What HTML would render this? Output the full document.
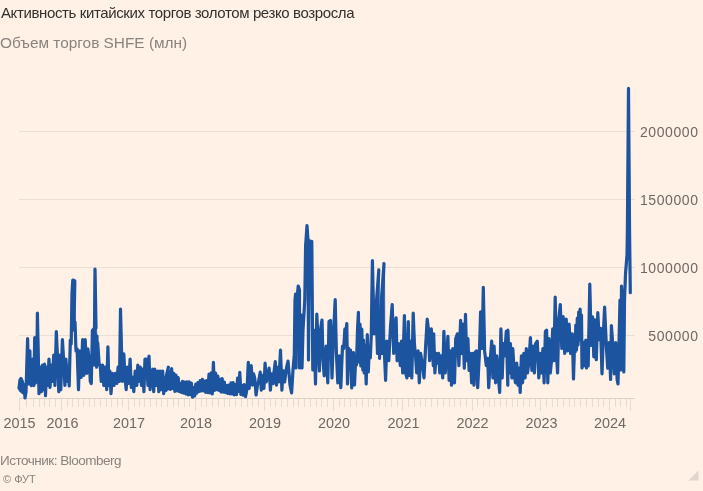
<!DOCTYPE html>
<html><head><meta charset="utf-8">
<style>
html,body{margin:0;padding:0;background:#fff1e5;}
body{width:703px;height:491px;overflow:hidden;position:relative;font-family:"Liberation Sans",sans-serif;}
.t{position:absolute;white-space:nowrap;will-change:transform;}
#title{left:0.8px;top:4.2px;font-size:15px;line-height:normal;color:#33302e;letter-spacing:-0.38px;}
#sub{left:0;top:34.3px;font-size:15.4px;color:#8a837f;}
#src{left:0;top:453.2px;font-size:13.5px;color:#8a837f;letter-spacing:-0.5px;}
#cr{left:3px;top:472.5px;font-size:11px;color:#8a837f;}
svg{position:absolute;left:0;top:0;will-change:transform;}
</style></head><body>
<div class="t" id="title">Активность китайских торгов золотом резко возросла</div>
<div class="t" id="sub">Объем торгов SHFE (млн)</div>
<svg width="703" height="491" viewBox="0 0 703 491">
<g stroke="#eadfd4" stroke-width="1" shape-rendering="crispEdges">
<line x1="19" y1="131.5" x2="635" y2="131.5"/>
<line x1="19" y1="199.5" x2="635" y2="199.5"/>
<line x1="19" y1="267.5" x2="635" y2="267.5"/>
<line x1="19" y1="335.5" x2="635" y2="335.5"/>
</g>
<g fill="#6f6965" font-family="Liberation Sans" font-size="14" letter-spacing="0.6" text-anchor="end">
<text x="698.6" y="137">2000000</text>
<text x="698.6" y="205">1500000</text>
<text x="698.6" y="273">1000000</text>
<text x="698.6" y="341">500000</text>
</g>
<g id="axis" stroke="#e0d5ca" stroke-width="1" shape-rendering="crispEdges"><line x1="67.5" y1="399" x2="67.5" y2="407" stroke="#e6dbd1"/><line x1="72.5" y1="399" x2="72.5" y2="407" stroke="#e6dbd1"/><line x1="78.5" y1="399" x2="78.5" y2="407" stroke="#e6dbd1"/><line x1="83.5" y1="399" x2="83.5" y2="407" stroke="#e6dbd1"/><line x1="89.5" y1="399" x2="89.5" y2="407" stroke="#e6dbd1"/><line x1="94.5" y1="399" x2="94.5" y2="407" stroke="#e6dbd1"/><line x1="100.5" y1="399" x2="100.5" y2="407" stroke="#e6dbd1"/><line x1="106.5" y1="399" x2="106.5" y2="407" stroke="#e6dbd1"/><line x1="111.5" y1="399" x2="111.5" y2="407" stroke="#e6dbd1"/><line x1="117.5" y1="399" x2="117.5" y2="407" stroke="#e6dbd1"/><line x1="122.5" y1="399" x2="122.5" y2="407" stroke="#e6dbd1"/><line x1="134.5" y1="399" x2="134.5" y2="407" stroke="#e6dbd1"/><line x1="139.5" y1="399" x2="139.5" y2="407" stroke="#e6dbd1"/><line x1="144.5" y1="399" x2="144.5" y2="407" stroke="#e6dbd1"/><line x1="150.5" y1="399" x2="150.5" y2="407" stroke="#e6dbd1"/><line x1="156.5" y1="399" x2="156.5" y2="407" stroke="#e6dbd1"/><line x1="161.5" y1="399" x2="161.5" y2="407" stroke="#e6dbd1"/><line x1="167.5" y1="399" x2="167.5" y2="407" stroke="#e6dbd1"/><line x1="173.5" y1="399" x2="173.5" y2="407" stroke="#e6dbd1"/><line x1="178.5" y1="399" x2="178.5" y2="407" stroke="#e6dbd1"/><line x1="184.5" y1="399" x2="184.5" y2="407" stroke="#e6dbd1"/><line x1="189.5" y1="399" x2="189.5" y2="407" stroke="#e6dbd1"/><line x1="201.5" y1="399" x2="201.5" y2="407" stroke="#e6dbd1"/><line x1="206.5" y1="399" x2="206.5" y2="407" stroke="#e6dbd1"/><line x1="212.5" y1="399" x2="212.5" y2="407" stroke="#e6dbd1"/><line x1="218.5" y1="399" x2="218.5" y2="407" stroke="#e6dbd1"/><line x1="224.5" y1="399" x2="224.5" y2="407" stroke="#e6dbd1"/><line x1="229.5" y1="399" x2="229.5" y2="407" stroke="#e6dbd1"/><line x1="235.5" y1="399" x2="235.5" y2="407" stroke="#e6dbd1"/><line x1="241.5" y1="399" x2="241.5" y2="407" stroke="#e6dbd1"/><line x1="247.5" y1="399" x2="247.5" y2="407" stroke="#e6dbd1"/><line x1="252.5" y1="399" x2="252.5" y2="407" stroke="#e6dbd1"/><line x1="258.5" y1="399" x2="258.5" y2="407" stroke="#e6dbd1"/><line x1="270.5" y1="399" x2="270.5" y2="407" stroke="#e6dbd1"/><line x1="275.5" y1="399" x2="275.5" y2="407" stroke="#e6dbd1"/><line x1="281.5" y1="399" x2="281.5" y2="407" stroke="#e6dbd1"/><line x1="287.5" y1="399" x2="287.5" y2="407" stroke="#e6dbd1"/><line x1="293.5" y1="399" x2="293.5" y2="407" stroke="#e6dbd1"/><line x1="298.5" y1="399" x2="298.5" y2="407" stroke="#e6dbd1"/><line x1="304.5" y1="399" x2="304.5" y2="407" stroke="#e6dbd1"/><line x1="310.5" y1="399" x2="310.5" y2="407" stroke="#e6dbd1"/><line x1="316.5" y1="399" x2="316.5" y2="407" stroke="#e6dbd1"/><line x1="321.5" y1="399" x2="321.5" y2="407" stroke="#e6dbd1"/><line x1="327.5" y1="399" x2="327.5" y2="407" stroke="#e6dbd1"/><line x1="339.5" y1="399" x2="339.5" y2="407" stroke="#e6dbd1"/><line x1="344.5" y1="399" x2="344.5" y2="407" stroke="#e6dbd1"/><line x1="350.5" y1="399" x2="350.5" y2="407" stroke="#e6dbd1"/><line x1="356.5" y1="399" x2="356.5" y2="407" stroke="#e6dbd1"/><line x1="362.5" y1="399" x2="362.5" y2="407" stroke="#e6dbd1"/><line x1="368.5" y1="399" x2="368.5" y2="407" stroke="#e6dbd1"/><line x1="373.5" y1="399" x2="373.5" y2="407" stroke="#e6dbd1"/><line x1="379.5" y1="399" x2="379.5" y2="407" stroke="#e6dbd1"/><line x1="385.5" y1="399" x2="385.5" y2="407" stroke="#e6dbd1"/><line x1="391.5" y1="399" x2="391.5" y2="407" stroke="#e6dbd1"/><line x1="397.5" y1="399" x2="397.5" y2="407" stroke="#e6dbd1"/><line x1="408.5" y1="399" x2="408.5" y2="407" stroke="#e6dbd1"/><line x1="414.5" y1="399" x2="414.5" y2="407" stroke="#e6dbd1"/><line x1="420.5" y1="399" x2="420.5" y2="407" stroke="#e6dbd1"/><line x1="425.5" y1="399" x2="425.5" y2="407" stroke="#e6dbd1"/><line x1="431.5" y1="399" x2="431.5" y2="407" stroke="#e6dbd1"/><line x1="437.5" y1="399" x2="437.5" y2="407" stroke="#e6dbd1"/><line x1="443.5" y1="399" x2="443.5" y2="407" stroke="#e6dbd1"/><line x1="449.5" y1="399" x2="449.5" y2="407" stroke="#e6dbd1"/><line x1="454.5" y1="399" x2="454.5" y2="407" stroke="#e6dbd1"/><line x1="460.5" y1="399" x2="460.5" y2="407" stroke="#e6dbd1"/><line x1="466.5" y1="399" x2="466.5" y2="407" stroke="#e6dbd1"/><line x1="477.5" y1="399" x2="477.5" y2="407" stroke="#e6dbd1"/><line x1="483.5" y1="399" x2="483.5" y2="407" stroke="#e6dbd1"/><line x1="489.5" y1="399" x2="489.5" y2="407" stroke="#e6dbd1"/><line x1="494.5" y1="399" x2="494.5" y2="407" stroke="#e6dbd1"/><line x1="500.5" y1="399" x2="500.5" y2="407" stroke="#e6dbd1"/><line x1="506.5" y1="399" x2="506.5" y2="407" stroke="#e6dbd1"/><line x1="512.5" y1="399" x2="512.5" y2="407" stroke="#e6dbd1"/><line x1="517.5" y1="399" x2="517.5" y2="407" stroke="#e6dbd1"/><line x1="523.5" y1="399" x2="523.5" y2="407" stroke="#e6dbd1"/><line x1="529.5" y1="399" x2="529.5" y2="407" stroke="#e6dbd1"/><line x1="535.5" y1="399" x2="535.5" y2="407" stroke="#e6dbd1"/><line x1="546.5" y1="399" x2="546.5" y2="407" stroke="#e6dbd1"/><line x1="552.5" y1="399" x2="552.5" y2="407" stroke="#e6dbd1"/><line x1="557.5" y1="399" x2="557.5" y2="407" stroke="#e6dbd1"/><line x1="563.5" y1="399" x2="563.5" y2="407" stroke="#e6dbd1"/><line x1="569.5" y1="399" x2="569.5" y2="407" stroke="#e6dbd1"/><line x1="574.5" y1="399" x2="574.5" y2="407" stroke="#e6dbd1"/><line x1="580.5" y1="399" x2="580.5" y2="407" stroke="#e6dbd1"/><line x1="586.5" y1="399" x2="586.5" y2="407" stroke="#e6dbd1"/><line x1="592.5" y1="399" x2="592.5" y2="407" stroke="#e6dbd1"/><line x1="598.5" y1="399" x2="598.5" y2="407" stroke="#e6dbd1"/><line x1="603.5" y1="399" x2="603.5" y2="407" stroke="#e6dbd1"/><line x1="26.5" y1="399" x2="26.5" y2="407" stroke="#e6dbd1"/><line x1="33.5" y1="399" x2="33.5" y2="407" stroke="#e6dbd1"/><line x1="39.5" y1="399" x2="39.5" y2="407" stroke="#e6dbd1"/><line x1="44.5" y1="399" x2="44.5" y2="407" stroke="#e6dbd1"/><line x1="49.5" y1="399" x2="49.5" y2="407" stroke="#e6dbd1"/><line x1="55.5" y1="399" x2="55.5" y2="407" stroke="#e6dbd1"/><line x1="615.5" y1="399" x2="615.5" y2="407" stroke="#e6dbd1"/><line x1="620.5" y1="399" x2="620.5" y2="407" stroke="#e6dbd1"/><line x1="626.5" y1="399" x2="626.5" y2="407" stroke="#e6dbd1"/><line x1="61.5" y1="399" x2="61.5" y2="411" stroke="#e6dbd1"/><line x1="128.5" y1="399" x2="128.5" y2="411" stroke="#e6dbd1"/><line x1="195.5" y1="399" x2="195.5" y2="411" stroke="#e6dbd1"/><line x1="264.5" y1="399" x2="264.5" y2="411" stroke="#e6dbd1"/><line x1="333.5" y1="399" x2="333.5" y2="411" stroke="#e6dbd1"/><line x1="402.5" y1="399" x2="402.5" y2="411" stroke="#e6dbd1"/><line x1="472.5" y1="399" x2="472.5" y2="411" stroke="#e6dbd1"/><line x1="540.5" y1="399" x2="540.5" y2="411" stroke="#e6dbd1"/><line x1="609.5" y1="399" x2="609.5" y2="411" stroke="#e6dbd1"/><line x1="19.5" y1="399" x2="19.5" y2="411" stroke="#e6dbd1"/><line x1="630.5" y1="399" x2="630.5" y2="411" stroke="#e6dbd1"/><line x1="19" y1="398.5" x2="635" y2="398.5" stroke="#ddd2c7"/></g>
<g fill="#6f6965" font-family="Liberation Sans" font-size="14.4" text-anchor="middle" id="years"><text x="19.5" y="428">2015</text><text x="62.5" y="428">2016</text><text x="128.9" y="428">2017</text><text x="196.0" y="428">2018</text><text x="265.0" y="428">2019</text><text x="333.9" y="428">2020</text><text x="403.5" y="428">2021</text><text x="472.6" y="428">2022</text><text x="541.4" y="428">2023</text><text x="610.1" y="428">2024</text></g>
<path id="env" fill="#1c54a0" stroke="#1c54a0" stroke-width="0.6" d="M19.0 383.2 L19.5 380.0 L20.0 379.1 L20.5 378.5 L21.0 378.5 L21.5 378.5 L22.0 379.8 L22.5 380.7 L23.0 382.0 L23.5 385.1 L24.0 385.0 L24.5 385.0 L25.0 390.2 L25.5 392.0 L26.0 374.2 L26.5 356.5 L27.0 344.6 L27.5 338.7 L28.0 338.7 L28.5 353.8 L29.0 361.9 L29.5 350.9 L30.0 350.9 L30.5 359.2 L31.0 384.0 L31.5 383.0 L32.0 365.0 L32.5 359.0 L33.0 359.0 L33.5 375.0 L34.0 347.2 L34.5 337.7 L35.0 337.7 L35.5 349.0 L36.0 367.2 L36.5 347.6 L37.0 313.2 L37.5 313.2 L38.0 321.2 L38.5 337.2 L39.0 361.1 L39.5 371.0 L40.0 367.2 L40.5 367.2 L41.0 370.7 L41.5 378.4 L42.0 365.1 L42.5 365.1 L43.0 365.1 L43.5 376.8 L44.0 364.1 L44.5 364.1 L45.0 364.1 L45.5 379.9 L46.0 367.2 L46.5 367.2 L47.0 367.2 L47.5 376.3 L48.0 369.0 L48.5 359.0 L49.0 359.0 L49.5 359.0 L50.0 373.3 L50.5 368.3 L51.0 365.1 L51.5 365.1 L52.0 367.9 L52.5 368.2 L53.0 358.3 L53.5 355.0 L54.0 355.0 L54.5 363.7 L55.0 365.3 L55.5 345.0 L56.0 331.6 L56.5 331.6 L57.0 335.2 L57.5 346.3 L58.0 357.4 L58.5 366.2 L59.0 367.2 L59.5 355.0 L60.0 355.0 L60.5 360.7 L61.0 367.4 L61.5 350.8 L62.0 339.7 L62.5 339.7 L63.0 339.7 L63.5 349.2 L64.0 358.8 L64.5 368.5 L65.0 367.9 L65.5 359.0 L66.0 359.0 L66.5 361.5 L67.0 366.5 L67.5 374.0 L68.0 370.7 L68.5 367.2 L69.0 367.2 L69.5 355.3 L70.0 340.0 L70.5 340.0 L71.0 318.5 L71.5 293.0 L72.0 283.2 L72.5 280.0 L73.0 280.0 L73.5 280.1 L74.0 280.4 L74.5 280.6 L75.0 280.9 L75.5 322.0 L76.0 333.6 L76.5 349.0 L77.0 349.0 L77.5 349.0 L78.0 359.1 L78.5 373.0 L79.0 356.4 L79.5 350.9 L80.0 350.9 L80.5 354.2 L81.0 364.1 L81.5 353.8 L82.0 339.7 L82.5 339.7 L83.0 339.7 L83.5 349.9 L84.0 357.5 L84.5 344.1 L85.0 339.7 L85.5 339.7 L86.0 343.9 L86.5 356.5 L87.0 355.8 L87.5 348.9 L88.0 348.9 L88.5 350.4 L89.0 353.4 L89.5 358.0 L90.0 364.5 L90.5 374.6 L91.0 374.6 L91.5 348.2 L92.0 330.3 L92.5 329.8 L93.0 329.2 L93.5 328.7 L94.0 328.0 L94.5 269.0 L95.0 269.0 L95.5 269.0 L96.0 292.6 L96.5 328.0 L97.0 336.0 L97.5 336.0 L98.0 342.7 L98.5 345.5 L99.0 353.9 L99.5 362.3 L100.0 365.1 L100.5 365.1 L101.0 370.6 L101.5 371.2 L102.0 367.2 L102.5 365.1 L103.0 365.1 L103.5 371.0 L104.0 376.3 L104.5 369.5 L105.0 367.2 L105.5 367.2 L106.0 370.0 L106.5 377.4 L107.0 359.0 L107.5 346.8 L108.0 346.8 L108.5 346.8 L109.0 366.2 L109.5 371.2 L110.0 371.2 L110.5 371.2 L111.0 382.4 L111.5 378.4 L112.0 373.3 L112.5 373.3 L113.0 374.6 L113.5 377.4 L114.0 380.9 L114.5 376.3 L115.0 373.3 L115.5 373.3 L116.0 373.3 L116.5 377.1 L117.0 374.2 L117.5 367.2 L118.0 367.2 L118.5 367.2 L119.0 370.7 L119.5 345.3 L120.0 309.2 L120.5 309.2 L121.0 309.2 L121.5 331.0 L122.0 352.9 L122.5 367.2 L123.0 361.8 L123.5 353.9 L124.0 353.9 L124.5 357.3 L125.0 367.3 L125.5 377.4 L126.0 382.1 L126.5 370.9 L127.0 367.2 L127.5 367.2 L128.0 369.2 L128.5 375.3 L129.0 368.2 L129.5 362.1 L130.0 359.0 L130.5 359.0 L131.0 367.2 L131.5 379.4 L132.0 378.6 L132.5 377.4 L133.0 377.4 L133.5 379.7 L134.0 381.4 L134.5 373.8 L135.0 371.2 L135.5 371.2 L136.0 374.4 L136.5 377.6 L137.0 371.9 L137.5 365.1 L138.0 365.1 L138.5 367.9 L139.0 374.3 L139.5 370.7 L140.0 367.2 L140.5 367.2 L141.0 369.8 L141.5 377.6 L142.0 373.3 L142.5 369.2 L143.0 369.2 L143.5 369.2 L144.0 375.3 L144.5 359.0 L145.0 359.0 L145.5 359.0 L146.0 359.0 L146.5 359.0 L147.0 362.0 L147.5 367.9 L148.0 370.7 L148.5 356.0 L149.0 356.0 L149.5 356.0 L150.0 372.8 L150.5 377.4 L151.0 375.5 L151.5 372.8 L152.0 370.1 L152.5 369.2 L153.0 369.2 L153.5 376.7 L154.0 372.9 L154.5 369.2 L155.0 369.2 L155.5 371.2 L156.0 377.4 L156.5 377.6 L157.0 374.4 L157.5 371.2 L158.0 371.2 L158.5 374.6 L159.0 381.4 L159.5 373.8 L160.0 371.2 L160.5 371.2 L161.0 377.4 L161.5 380.4 L162.0 373.5 L162.5 371.2 L163.0 371.2 L163.5 378.7 L164.0 386.9 L164.5 382.1 L165.0 379.5 L165.5 377.7 L166.0 375.1 L166.5 373.3 L167.0 370.7 L167.5 368.7 L168.0 367.2 L168.5 367.2 L169.0 371.4 L169.5 371.4 L170.0 374.4 L170.5 379.0 L171.0 368.7 L171.5 368.7 L172.0 368.7 L172.5 375.3 L173.0 378.5 L173.5 373.4 L174.0 373.4 L174.5 376.4 L175.0 383.2 L175.5 375.2 L176.0 375.2 L176.5 375.2 L177.0 383.0 L177.5 379.9 L178.0 377.7 L178.5 377.7 L179.0 382.3 L179.5 386.0 L180.0 383.3 L180.5 383.3 L181.0 384.8 L181.5 387.0 L182.0 381.4 L182.5 381.4 L183.0 381.4 L183.5 385.3 L184.0 385.9 L184.5 382.2 L185.0 382.2 L185.5 384.2 L186.0 387.9 L186.5 381.8 L187.0 381.8 L187.5 381.8 L188.0 388.4 L188.5 384.0 L189.0 381.9 L189.5 381.9 L190.0 386.1 L190.5 387.1 L191.0 383.2 L191.5 383.2 L192.0 385.5 L192.5 390.2 L193.0 387.6 L193.5 387.6 L194.0 387.6 L194.5 390.4 L195.0 388.0 L195.5 384.0 L196.0 384.0 L196.5 385.5 L197.0 387.8 L197.5 382.5 L198.0 382.5 L198.5 382.5 L199.0 387.0 L199.5 382.5 L200.0 380.6 L200.5 380.6 L201.0 384.1 L201.5 383.2 L202.0 379.3 L202.5 379.3 L203.0 381.2 L203.5 385.0 L204.0 381.1 L204.5 381.1 L205.0 381.1 L205.5 384.9 L206.0 384.4 L206.5 380.5 L207.0 380.5 L207.5 382.5 L208.0 383.4 L208.5 374.2 L209.0 374.2 L209.5 374.2 L210.0 383.5 L210.5 376.2 L211.0 372.8 L211.5 372.8 L212.0 379.9 L212.5 372.9 L213.0 362.4 L213.5 362.4 L214.0 367.1 L214.5 376.4 L215.0 373.1 L215.5 373.1 L216.0 373.1 L216.5 378.6 L217.0 380.6 L217.5 376.0 L218.0 376.0 L218.5 378.4 L219.0 384.9 L219.5 379.3 L220.0 379.3 L220.5 379.3 L221.0 385.7 L221.5 381.0 L222.0 378.7 L222.5 378.7 L223.0 383.2 L223.5 385.4 L224.0 382.0 L224.5 382.0 L225.0 383.8 L225.5 387.3 L226.0 385.7 L226.5 385.7 L227.0 385.7 L227.5 388.3 L228.0 387.8 L228.5 385.1 L229.0 385.1 L229.5 386.6 L230.0 388.4 L230.5 382.8 L231.0 382.8 L231.5 382.8 L232.0 388.4 L232.5 384.5 L233.0 382.6 L233.5 382.6 L234.0 386.7 L234.5 388.1 L235.0 384.7 L235.5 384.7 L236.0 386.4 L236.5 386.4 L237.0 378.2 L237.5 378.2 L238.0 378.2 L238.5 382.6 L239.0 378.6 L239.5 372.3 L240.0 372.3 L240.5 376.0 L241.0 387.1 L241.5 385.6 L242.0 385.6 L242.5 385.6 L243.0 390.4 L243.5 386.4 L244.0 384.6 L244.5 384.6 L245.0 388.0 L245.5 391.5 L246.0 391.5 L246.5 388.5 L247.0 381.0 L247.5 369.9 L248.0 362.4 L248.5 362.4 L249.0 367.6 L249.5 373.4 L250.0 366.9 L250.5 366.1 L251.0 365.7 L251.5 365.7 L252.0 371.3 L252.5 376.8 L253.0 373.8 L253.5 373.8 L254.0 373.8 L254.5 375.2 L255.0 377.3 L255.5 381.0 L256.0 388.0 L256.5 388.0 L257.0 384.7 L257.5 383.6 L258.0 382.0 L258.5 378.7 L259.0 376.6 L259.5 373.3 L260.0 372.2 L260.5 372.2 L261.0 378.2 L261.5 381.7 L262.0 375.4 L262.5 375.4 L263.0 375.4 L263.5 379.1 L264.0 374.0 L264.5 363.2 L265.0 363.2 L265.5 363.2 L266.0 369.5 L266.5 378.2 L267.0 375.4 L267.5 373.0 L268.0 370.5 L268.5 368.1 L269.0 368.1 L269.5 368.1 L270.0 374.4 L270.5 380.8 L271.0 373.8 L271.5 373.8 L272.0 373.8 L272.5 376.2 L273.0 378.7 L273.5 372.2 L274.0 367.7 L274.5 364.6 L275.0 361.6 L275.5 361.6 L276.0 365.5 L276.5 373.4 L277.0 372.4 L277.5 367.3 L278.0 367.3 L278.5 369.8 L279.0 371.4 L279.5 360.8 L280.0 350.2 L280.5 350.2 L281.0 350.2 L281.5 361.6 L282.0 378.7 L282.5 370.5 L283.0 370.5 L283.5 370.5 L284.0 374.3 L284.5 378.2 L285.0 374.7 L285.5 371.8 L286.0 368.0 L286.5 365.2 L287.0 363.4 L287.5 361.0 L288.0 361.0 L288.5 361.0 L289.0 365.8 L289.5 373.0 L290.0 377.8 L290.5 385.0 L291.0 387.7 L291.5 386.4 L292.0 376.6 L292.5 370.0 L293.0 363.6 L293.5 359.3 L294.0 341.2 L294.5 300.0 L295.0 294.0 L295.5 294.0 L296.0 294.0 L296.5 300.0 L297.0 293.0 L297.5 288.3 L298.0 286.0 L298.5 286.0 L299.0 287.1 L299.5 288.3 L300.0 290.0 L300.5 317.0 L301.0 315.0 L301.5 315.0 L302.0 315.0 L302.5 330.0 L303.0 321.0 L303.5 312.0 L304.0 306.0 L304.5 289.2 L305.0 246.0 L305.5 240.1 L306.0 231.4 L306.5 225.5 L307.0 225.5 L307.5 225.5 L308.0 231.3 L308.5 240.0 L309.0 240.6 L309.5 240.6 L310.0 240.6 L310.5 242.3 L311.0 242.2 L311.5 241.5 L312.0 241.5 L312.5 267.2 L313.0 318.6 L313.5 330.0 L314.0 330.0 L314.5 330.0 L315.0 350.2 L315.5 354.0 L316.0 334.0 L316.5 314.0 L317.0 314.0 L317.5 318.3 L318.0 327.0 L318.5 340.0 L319.0 348.9 L319.5 350.5 L320.0 330.0 L320.5 326.2 L321.0 323.8 L321.5 320.0 L322.0 320.0 L322.5 320.0 L323.0 336.0 L323.5 360.0 L324.0 365.3 L324.5 364.0 L325.0 355.0 L325.5 349.0 L326.0 346.1 L326.5 346.1 L327.0 354.2 L327.5 366.4 L328.0 347.8 L328.5 321.6 L329.0 321.1 L329.5 320.8 L330.0 320.4 L330.5 320.4 L331.0 320.4 L331.5 341.9 L332.0 356.3 L332.5 346.7 L333.0 336.3 L333.5 324.0 L334.0 311.8 L334.5 303.6 L335.0 299.6 L335.5 299.6 L336.0 314.9 L336.5 338.0 L337.0 357.1 L337.5 364.4 L338.0 369.3 L338.5 362.6 L339.0 355.8 L339.5 355.8 L340.0 359.8 L340.5 371.7 L341.0 369.2 L341.5 359.9 L342.0 346.1 L342.5 346.1 L343.0 346.1 L343.5 342.9 L344.0 334.5 L344.5 328.9 L345.0 328.9 L345.5 328.9 L346.0 328.2 L346.5 323.5 L347.0 323.5 L347.5 338.6 L348.0 348.0 L348.5 348.0 L349.0 348.0 L349.5 353.6 L350.0 350.0 L350.5 350.0 L351.0 350.0 L351.5 362.7 L352.0 360.0 L352.5 355.6 L353.0 352.6 L353.5 352.6 L354.0 352.6 L354.5 365.6 L355.0 362.0 L355.5 362.0 L356.0 362.0 L356.5 344.0 L357.0 330.0 L357.5 319.4 L358.0 312.3 L358.5 312.3 L359.0 312.3 L359.5 324.0 L360.0 324.0 L360.5 324.0 L361.0 336.4 L361.5 329.0 L362.0 329.0 L362.5 337.2 L363.0 340.0 L363.5 340.0 L364.0 340.0 L364.5 345.0 L365.0 345.0 L365.5 345.0 L366.0 358.0 L366.5 351.1 L367.0 334.7 L367.5 334.7 L368.0 342.2 L368.5 352.8 L369.0 348.0 L369.5 348.0 L370.0 350.0 L370.5 339.6 L371.0 323.3 L371.5 286.9 L372.0 260.7 L372.5 260.7 L373.0 260.7 L373.5 285.1 L374.0 309.4 L374.5 320.5 L375.0 315.1 L375.5 307.1 L376.0 301.8 L376.5 293.8 L377.0 288.5 L377.5 280.5 L378.0 275.1 L378.5 269.8 L379.0 269.8 L379.5 318.1 L380.0 312.6 L380.5 304.5 L381.0 299.0 L381.5 290.9 L382.0 285.4 L382.5 277.3 L383.0 271.9 L383.5 263.7 L384.0 263.7 L384.5 263.7 L385.0 354.2 L385.5 367.3 L386.0 352.3 L386.5 341.2 L387.0 341.2 L387.5 343.1 L388.0 349.0 L388.5 352.9 L389.0 345.5 L389.5 334.1 L390.0 326.5 L390.5 319.1 L391.0 314.3 L391.5 306.9 L392.0 304.5 L392.5 304.5 L393.0 316.7 L393.5 328.9 L394.0 335.9 L394.5 327.4 L395.0 322.6 L395.5 319.5 L396.0 317.9 L396.5 317.9 L397.0 335.0 L397.5 350.0 L398.0 343.6 L398.5 343.6 L399.0 343.6 L399.5 348.5 L400.0 355.8 L400.5 351.6 L401.0 341.2 L401.5 341.2 L402.0 341.2 L402.5 354.8 L403.0 347.4 L403.5 328.3 L404.0 315.5 L404.5 315.5 L405.0 315.5 L405.5 340.1 L406.0 364.8 L406.5 370.8 L407.0 349.7 L407.5 335.7 L408.0 321.6 L408.5 321.6 L409.0 332.4 L409.5 353.9 L410.0 345.4 L410.5 341.2 L411.0 341.2 L411.5 348.5 L412.0 345.4 L412.5 321.1 L413.0 313.0 L413.5 313.0 L414.0 317.4 L414.5 330.5 L415.0 343.6 L415.5 349.9 L416.0 356.2 L416.5 364.2 L417.0 359.2 L417.5 353.7 L418.0 350.9 L418.5 350.9 L419.0 360.0 L419.5 366.0 L420.0 353.4 L420.5 353.4 L421.0 353.4 L421.5 355.6 L422.0 358.8 L422.5 362.1 L423.0 364.8 L423.5 369.7 L424.0 366.9 L424.5 355.8 L425.0 348.5 L425.5 338.7 L426.0 332.2 L426.5 322.4 L427.0 319.1 L427.5 319.1 L428.0 321.9 L428.5 326.1 L429.0 333.5 L429.5 342.6 L430.0 343.1 L430.5 336.0 L431.0 328.9 L431.5 328.9 L432.0 332.6 L432.5 339.9 L433.0 349.7 L433.5 333.8 L434.0 333.8 L434.5 345.0 L435.0 361.8 L435.5 356.2 L436.0 353.4 L436.5 353.4 L437.0 356.2 L437.5 357.6 L438.0 353.4 L438.5 353.4 L439.0 353.4 L439.5 359.0 L440.0 363.2 L440.5 355.8 L441.0 355.8 L441.5 355.8 L442.0 363.2 L442.5 364.6 L443.0 344.7 L443.5 331.4 L444.0 331.4 L444.5 331.4 L445.0 349.2 L445.5 363.8 L446.0 360.1 L446.5 352.0 L447.0 342.6 L447.5 336.3 L448.0 336.3 L448.5 342.6 L449.0 361.4 L449.5 359.3 L450.0 350.9 L450.5 350.9 L451.0 355.8 L451.5 369.5 L452.0 353.7 L452.5 348.5 L453.0 348.5 L453.5 352.3 L454.0 363.7 L454.5 363.9 L455.0 345.0 L455.5 337.6 L456.0 336.5 L456.5 334.9 L457.0 333.8 L457.5 333.8 L458.0 333.8 L458.5 345.7 L459.0 350.5 L459.5 335.5 L460.0 320.4 L460.5 320.4 L461.0 320.4 L461.5 329.8 L462.0 336.6 L462.5 324.0 L463.0 324.0 L463.5 324.0 L464.0 342.9 L464.5 337.3 L465.0 314.3 L465.5 314.3 L466.0 314.3 L466.5 334.2 L467.0 345.0 L467.5 338.7 L468.0 338.7 L468.5 338.7 L469.0 352.3 L469.5 358.3 L470.0 353.4 L470.5 353.4 L471.0 357.6 L471.5 370.2 L472.0 361.8 L472.5 353.4 L473.0 353.4 L473.5 357.9 L474.0 371.0 L474.5 356.9 L475.0 352.0 L475.5 351.5 L476.0 350.9 L476.5 350.9 L477.0 350.9 L477.5 366.7 L478.0 372.4 L478.5 361.0 L479.0 347.5 L479.5 335.6 L480.0 317.7 L480.5 311.8 L481.0 311.8 L481.5 321.0 L482.0 331.0 L482.5 304.8 L483.0 287.3 L483.5 287.3 L484.0 296.4 L484.5 323.7 L485.0 350.9 L485.5 354.2 L486.0 359.1 L486.5 362.0 L487.0 359.2 L487.5 358.3 L488.0 358.3 L488.5 364.2 L489.0 374.2 L489.5 364.1 L490.0 355.8 L490.5 350.9 L491.0 343.6 L491.5 341.2 L492.0 341.2 L492.5 351.6 L493.0 359.7 L493.5 346.1 L494.0 346.1 L494.5 346.1 L495.0 355.2 L495.5 369.0 L496.0 363.5 L496.5 355.8 L497.0 355.8 L497.5 358.3 L498.0 365.6 L498.5 373.0 L499.0 379.5 L499.5 374.4 L500.0 347.1 L500.5 328.9 L501.0 328.9 L501.5 328.9 L502.0 349.9 L502.5 353.4 L503.0 343.6 L503.5 343.6 L504.0 345.4 L504.5 348.9 L505.0 342.2 L505.5 336.8 L506.0 331.4 L506.5 331.4 L507.0 338.1 L507.5 330.2 L508.0 330.2 L508.5 330.2 L509.0 346.2 L509.5 355.4 L510.0 343.6 L510.5 343.6 L511.0 347.9 L511.5 356.5 L512.0 360.2 L512.5 348.5 L513.0 348.5 L513.5 351.9 L514.0 362.0 L514.5 368.7 L515.0 376.5 L515.5 374.4 L516.0 366.0 L516.5 363.2 L517.0 363.2 L517.5 366.3 L518.0 375.8 L518.5 370.5 L519.0 368.1 L519.5 368.1 L520.0 377.9 L520.5 366.3 L521.0 355.8 L521.5 355.8 L522.0 359.7 L522.5 367.4 L523.0 361.8 L523.5 353.4 L524.0 353.4 L524.5 356.9 L525.0 365.3 L525.5 356.9 L526.0 348.5 L526.5 348.5 L527.0 352.0 L527.5 362.5 L528.0 365.3 L528.5 360.7 L529.0 352.0 L529.5 343.3 L530.0 337.5 L530.5 337.5 L531.0 337.5 L531.5 349.9 L532.0 360.0 L532.5 349.6 L533.0 346.1 L533.5 346.1 L534.0 353.7 L534.5 356.2 L535.0 343.6 L535.5 343.1 L536.0 342.2 L536.5 341.7 L537.0 341.2 L537.5 341.2 L538.0 345.7 L538.5 359.5 L539.0 367.0 L539.5 358.8 L540.0 353.4 L540.5 353.4 L541.0 353.4 L541.5 361.8 L542.0 355.5 L542.5 348.5 L543.0 348.5 L543.5 348.5 L544.0 363.2 L544.5 346.1 L545.0 331.2 L545.5 330.7 L546.0 330.2 L546.5 330.2 L547.0 330.2 L547.5 345.2 L548.0 357.6 L548.5 338.7 L549.0 338.7 L549.5 338.7 L550.0 353.4 L550.5 363.2 L551.0 360.7 L551.5 347.1 L552.0 333.5 L552.5 328.9 L553.0 328.9 L553.5 338.0 L554.0 333.5 L554.5 306.2 L555.0 297.1 L555.5 297.1 L556.0 313.2 L556.5 337.3 L557.0 356.2 L557.5 357.6 L558.0 334.5 L558.5 317.3 L559.0 311.8 L559.5 308.1 L560.0 304.5 L560.5 304.5 L561.0 310.0 L561.5 326.5 L562.0 332.6 L562.5 320.7 L563.0 316.7 L563.5 316.7 L564.0 321.3 L564.5 335.0 L565.0 336.3 L565.5 323.4 L566.0 319.1 L566.5 319.1 L567.0 327.1 L567.5 339.0 L568.0 334.1 L568.5 324.0 L569.0 324.0 L569.5 324.0 L570.0 331.4 L570.5 342.4 L571.0 342.5 L571.5 336.0 L572.0 333.8 L572.5 333.8 L573.0 340.3 L573.5 358.6 L574.0 345.0 L574.5 345.0 L575.0 334.0 L575.5 325.0 L576.0 325.0 L576.5 326.0 L577.0 318.0 L577.5 318.0 L578.0 320.2 L578.5 312.0 L579.0 312.0 L579.5 309.0 L580.0 309.0 L580.5 309.0 L581.0 315.0 L581.5 315.0 L582.0 315.0 L582.5 345.0 L583.0 345.0 L583.5 348.0 L584.0 342.0 L584.5 342.0 L585.0 346.2 L585.5 340.0 L586.0 340.0 L586.5 347.0 L587.0 345.0 L587.5 345.0 L588.0 345.0 L588.5 325.1 L589.0 294.4 L589.5 284.2 L590.0 284.2 L590.5 291.8 L591.0 314.8 L591.5 331.1 L592.0 320.5 L592.5 316.9 L593.0 316.9 L593.5 330.2 L594.0 332.1 L594.5 319.8 L595.0 319.8 L595.5 319.8 L596.0 334.7 L596.5 336.1 L597.0 318.5 L597.5 312.6 L598.0 312.6 L598.5 316.0 L599.0 326.2 L599.5 332.6 L600.0 329.7 L600.5 328.3 L601.0 328.3 L601.5 339.7 L602.0 356.8 L602.5 347.2 L603.0 331.1 L603.5 319.0 L604.0 307.0 L604.5 307.0 L605.0 307.0 L605.5 315.5 L606.0 328.3 L606.5 336.8 L607.0 348.2 L607.5 356.8 L608.0 355.3 L608.5 345.7 L609.0 342.5 L609.5 342.5 L610.0 351.8 L610.5 347.1 L611.0 325.5 L611.5 325.5 L612.0 325.5 L612.5 332.9 L613.0 340.4 L613.5 348.9 L614.0 359.6 L614.5 358.2 L615.0 346.4 L615.5 342.5 L616.0 342.5 L616.5 351.8 L617.0 361.0 L617.5 374.9 L618.0 360.9 L618.5 345.4 L619.0 322.5 L619.5 300.0 L620.0 300.0 L620.5 300.0 L621.0 286.0 L621.5 286.0 L622.0 286.0 L622.5 290.0 L623.0 290.0 L623.5 290.0 L624.0 300.0 L624.5 284.4 L625.0 274.0 L625.5 266.9 L626.0 262.1 L626.5 255.0 L627.0 206.4 L627.5 159.2 L628.0 88.4 L628.5 88.4 L629.0 88.4 L629.5 143.6 L630.0 226.5 L630.0 292.7 L629.5 276.1 L629.0 226.5 L628.5 171.3 L628.0 230.0 L627.5 255.0 L627.0 262.1 L626.5 266.9 L626.0 274.0 L625.5 289.6 L625.0 300.0 L624.5 354.0 L624.0 372.0 L623.5 372.0 L623.0 351.5 L622.5 350.0 L622.0 350.0 L621.5 349.0 L621.0 370.0 L620.5 370.0 L620.0 352.5 L619.5 345.4 L619.0 360.9 L618.5 384.0 L618.0 384.0 L617.5 384.0 L617.0 381.3 L616.5 374.9 L616.0 365.6 L615.5 358.2 L615.0 369.9 L614.5 373.8 L614.0 373.8 L613.5 370.3 L613.0 359.6 L612.5 348.9 L612.0 340.4 L611.5 357.9 L611.0 379.5 L610.5 379.5 L610.0 379.5 L609.5 365.6 L609.0 355.3 L608.5 364.9 L608.0 368.1 L607.5 368.1 L607.0 365.3 L606.5 356.8 L606.0 348.2 L605.5 336.8 L605.0 328.3 L604.5 319.0 L604.0 331.1 L603.5 347.2 L603.0 357.8 L602.5 373.8 L602.0 373.8 L601.5 373.8 L601.0 356.8 L600.5 339.7 L600.0 336.8 L599.5 339.7 L599.0 339.7 L598.5 336.3 L598.0 326.2 L597.5 336.1 L597.0 353.7 L596.5 359.6 L596.0 359.6 L595.5 349.6 L595.0 334.7 L594.5 350.6 L594.0 356.8 L593.5 356.8 L593.0 350.1 L592.5 331.1 L592.0 338.3 L591.5 345.4 L591.0 345.4 L590.5 337.7 L590.0 314.8 L589.5 325.1 L589.0 345.5 L588.5 366.0 L588.0 366.0 L587.5 360.8 L587.0 368.0 L586.5 368.0 L586.0 368.0 L585.5 365.0 L585.0 365.0 L584.5 365.0 L584.0 366.0 L583.5 366.0 L583.0 366.0 L582.5 368.0 L582.0 368.0 L581.5 368.0 L581.0 330.0 L580.5 330.0 L580.0 340.0 L579.5 340.0 L579.0 340.0 L578.5 345.0 L578.0 345.0 L577.5 345.0 L577.0 350.0 L576.5 350.0 L576.0 350.0 L575.5 352.0 L575.0 352.0 L574.5 365.4 L574.0 379.0 L573.5 379.0 L573.0 379.0 L572.5 359.6 L572.0 342.5 L571.5 349.0 L571.0 353.4 L570.5 353.4 L570.0 353.4 L569.5 342.4 L569.0 334.1 L568.5 344.2 L568.0 350.9 L567.5 350.9 L567.0 347.0 L566.5 339.0 L566.0 336.3 L565.5 344.8 L565.0 353.4 L564.5 353.4 L564.0 348.8 L563.5 335.0 L563.0 332.6 L562.5 344.5 L562.0 348.5 L561.5 348.5 L561.0 343.0 L560.5 326.5 L560.0 311.8 L559.5 317.3 L559.0 334.5 L558.5 357.6 L558.0 373.0 L557.5 373.0 L557.0 373.0 L556.5 364.6 L556.0 356.2 L555.5 337.3 L555.0 333.5 L554.5 360.7 L554.0 360.7 L553.5 360.7 L553.0 351.6 L552.5 347.1 L552.0 360.7 L551.5 366.0 L551.0 371.2 L550.5 373.0 L550.0 373.0 L549.5 368.1 L549.0 357.6 L548.5 376.5 L548.0 382.8 L547.5 382.8 L547.0 367.7 L546.5 345.2 L546.0 331.2 L545.5 346.1 L545.0 368.1 L544.5 382.8 L544.0 382.8 L543.5 377.9 L543.0 363.2 L542.5 366.0 L542.0 373.0 L541.5 373.0 L541.0 370.2 L540.5 361.8 L540.0 367.0 L539.5 375.1 L539.0 377.9 L538.5 377.9 L538.0 373.3 L537.5 359.5 L537.0 345.7 L536.5 343.1 L536.0 347.8 L535.5 356.2 L535.0 368.8 L534.5 373.0 L534.0 373.0 L533.5 365.3 L533.0 360.0 L532.5 370.5 L532.0 370.5 L531.5 370.5 L531.0 362.3 L530.5 349.9 L530.0 352.0 L529.5 360.7 L529.0 365.3 L528.5 368.4 L528.0 373.0 L527.5 373.0 L527.0 373.0 L526.5 362.5 L526.0 369.5 L525.5 377.9 L525.0 377.9 L524.5 377.9 L524.0 367.4 L523.5 374.4 L523.0 382.8 L522.5 382.8 L522.0 378.9 L521.5 371.2 L521.0 382.1 L520.5 392.5 L520.0 392.5 L519.5 387.6 L519.0 377.9 L518.5 385.2 L518.0 385.2 L517.5 385.2 L517.0 375.8 L516.5 374.4 L516.0 382.8 L515.5 382.8 L515.0 382.8 L514.5 379.6 L514.0 376.5 L513.5 368.7 L513.0 362.0 L512.5 372.0 L512.0 377.9 L511.5 377.9 L511.0 369.3 L510.5 356.5 L510.0 373.0 L509.5 373.0 L509.0 373.0 L508.5 362.3 L508.0 385.2 L507.5 385.2 L507.0 371.7 L506.5 358.3 L506.0 342.2 L505.5 350.4 L505.0 355.8 L504.5 355.8 L504.0 354.1 L503.5 353.4 L503.0 368.1 L502.5 377.9 L502.0 377.9 L501.5 370.9 L501.0 356.2 L500.5 374.4 L500.0 392.5 L499.5 392.5 L499.0 390.4 L498.5 383.8 L498.0 379.5 L497.5 373.0 L497.0 365.6 L496.5 375.1 L496.0 382.8 L495.5 382.8 L495.0 382.8 L494.5 369.0 L494.0 359.7 L493.5 373.3 L493.0 377.9 L492.5 377.9 L492.0 367.4 L491.5 351.6 L491.0 355.8 L490.5 364.1 L490.0 374.2 L489.5 380.9 L489.0 387.6 L488.5 387.6 L488.0 381.8 L487.5 364.2 L487.0 364.7 L486.5 365.6 L486.0 365.6 L485.5 364.0 L485.0 359.1 L484.5 354.2 L484.0 350.9 L483.5 323.7 L483.0 331.0 L482.5 348.5 L482.0 348.5 L481.5 343.9 L481.0 334.7 L480.5 335.6 L480.0 353.4 L479.5 361.0 L479.0 372.4 L478.5 380.0 L478.0 387.6 L477.5 387.6 L477.0 382.4 L476.5 366.7 L476.0 352.0 L475.5 361.6 L475.0 371.0 L474.5 385.2 L474.0 385.2 L473.5 385.2 L473.0 371.6 L472.5 374.4 L472.0 382.8 L471.5 382.8 L471.0 382.8 L470.5 370.2 L470.0 365.6 L469.5 370.5 L469.0 370.5 L468.5 366.0 L468.0 352.3 L467.5 354.4 L467.0 360.7 L466.5 360.7 L466.0 354.1 L465.5 337.3 L465.0 360.4 L464.5 368.1 L464.0 368.1 L463.5 361.8 L463.0 342.9 L462.5 349.2 L462.0 353.4 L461.5 353.4 L461.0 344.0 L460.5 335.5 L460.0 350.5 L459.5 360.6 L459.0 365.6 L458.5 365.6 L458.0 357.7 L457.5 345.7 L457.0 337.8 L456.5 337.6 L456.0 345.0 L455.5 363.9 L455.0 382.8 L454.5 382.8 L454.0 382.8 L453.5 375.1 L453.0 363.7 L452.5 369.5 L452.0 385.2 L451.5 385.2 L451.0 385.2 L450.5 370.5 L450.0 371.9 L449.5 380.3 L449.0 380.3 L448.5 380.3 L448.0 361.4 L447.5 352.0 L447.0 360.1 L446.5 365.6 L446.0 369.3 L445.5 373.0 L445.0 373.0 L444.5 367.0 L444.0 351.3 L443.5 364.6 L443.0 377.9 L442.5 377.9 L442.0 375.4 L441.5 368.1 L441.0 363.2 L440.5 370.5 L440.0 373.0 L439.5 373.0 L439.0 367.4 L438.5 361.8 L438.0 361.8 L437.5 363.2 L437.0 363.2 L436.5 360.4 L436.0 364.6 L435.5 370.2 L435.0 373.0 L434.5 373.0 L434.0 361.8 L433.5 365.6 L433.0 365.6 L432.5 362.0 L432.0 350.9 L431.5 339.9 L431.0 343.1 L430.5 353.7 L430.0 360.7 L429.5 360.7 L429.0 356.2 L428.5 347.1 L428.0 333.5 L427.5 326.1 L427.0 332.2 L426.5 338.7 L426.0 348.5 L425.5 359.5 L425.0 366.9 L424.5 377.9 L424.0 377.9 L423.5 377.9 L423.0 373.0 L422.5 369.7 L422.0 364.8 L421.5 362.1 L421.0 358.8 L420.5 366.0 L420.0 378.6 L419.5 382.8 L419.0 382.8 L418.5 373.7 L418.0 360.0 L417.5 367.5 L417.0 373.0 L416.5 373.0 L416.0 370.0 L415.5 364.2 L415.0 356.2 L414.5 349.9 L414.0 343.6 L413.5 330.5 L413.0 345.4 L412.5 369.8 L412.0 377.9 L411.5 377.9 L411.0 370.5 L410.5 358.3 L410.0 371.1 L409.5 375.4 L409.0 375.4 L408.5 353.9 L408.0 356.8 L407.5 370.8 L407.0 377.9 L406.5 377.9 L406.0 376.5 L405.5 374.4 L405.0 364.8 L404.5 340.1 L404.0 347.4 L403.5 360.2 L403.0 373.0 L402.5 373.0 L402.0 368.4 L401.5 354.8 L401.0 362.1 L400.5 365.6 L400.0 365.6 L399.5 363.2 L399.0 355.8 L398.5 350.0 L398.0 356.5 L397.5 360.7 L397.0 360.7 L396.5 360.7 L396.0 335.0 L395.5 327.4 L395.0 335.9 L394.5 346.4 L394.0 353.4 L393.5 353.4 L393.0 347.3 L392.5 328.9 L392.0 316.7 L391.5 319.1 L391.0 326.5 L390.5 337.9 L390.0 345.5 L389.5 356.9 L389.0 360.7 L388.5 360.7 L388.0 358.8 L387.5 352.9 L387.0 352.3 L386.5 369.1 L386.0 380.3 L385.5 380.3 L385.0 380.3 L384.5 367.3 L384.0 354.2 L383.5 346.1 L383.0 349.7 L382.5 353.4 L382.0 353.4 L381.5 353.4 L381.0 346.4 L380.5 345.9 L380.0 358.3 L379.5 358.3 L379.0 358.3 L378.5 348.0 L378.0 353.4 L377.5 353.4 L377.0 353.4 L376.5 335.8 L376.0 324.0 L375.5 320.5 L375.0 328.5 L374.5 333.8 L374.0 333.8 L373.5 333.8 L373.0 309.4 L372.5 286.9 L372.0 323.3 L371.5 344.2 L371.0 353.4 L370.5 358.0 L370.0 358.0 L369.5 357.6 L369.0 367.2 L368.5 372.0 L368.0 372.0 L367.5 364.5 L367.0 367.6 L366.5 384.0 L366.0 384.0 L365.5 377.5 L365.0 364.5 L364.5 373.0 L364.0 373.0 L363.5 364.8 L363.0 370.0 L362.5 370.0 L362.0 361.8 L361.5 358.6 L361.0 366.0 L360.5 366.0 L360.0 349.2 L359.5 362.0 L359.0 362.0 L358.5 352.1 L358.0 330.0 L357.5 351.0 L357.0 365.0 L356.5 365.0 L356.0 365.0 L355.5 375.8 L355.0 385.0 L354.5 385.0 L354.0 385.0 L353.5 372.0 L353.0 360.0 L352.5 376.8 L352.0 388.0 L351.5 388.0 L351.0 381.7 L350.5 369.0 L350.0 362.0 L349.5 362.0 L349.0 362.0 L348.5 369.6 L348.0 384.0 L347.5 384.0 L347.0 384.0 L346.5 338.6 L346.0 340.0 L345.5 340.0 L345.0 340.0 L344.5 342.9 L344.0 348.5 L343.5 348.5 L343.0 348.2 L342.5 359.9 L342.0 369.2 L341.5 383.0 L341.0 387.6 L340.5 387.6 L340.0 383.7 L339.5 371.7 L339.0 369.3 L338.5 379.4 L338.0 382.8 L337.5 382.8 L337.0 375.4 L336.5 364.4 L336.0 357.1 L335.5 338.0 L335.0 314.9 L334.5 324.0 L334.0 336.3 L333.5 346.7 L333.0 362.3 L332.5 377.9 L332.0 377.9 L331.5 377.9 L331.0 356.3 L330.5 341.9 L330.0 321.3 L329.5 321.6 L329.0 347.8 L328.5 374.0 L328.0 382.8 L327.5 382.8 L327.0 374.6 L326.5 366.4 L326.0 355.0 L325.5 364.0 L325.0 370.0 L324.5 376.0 L324.0 376.0 L323.5 373.3 L323.0 368.0 L322.5 360.0 L322.0 344.0 L321.5 326.2 L321.0 330.0 L320.5 350.5 L320.0 371.0 L319.5 371.0 L319.0 371.0 L318.5 362.1 L318.0 353.3 L317.5 340.0 L317.0 334.0 L316.5 354.0 L316.0 384.0 L315.5 384.0 L315.0 384.0 L314.5 363.8 L314.0 350.2 L313.5 363.3 L313.0 370.0 L312.5 370.0 L312.0 344.3 L311.5 267.2 L311.0 244.0 L310.5 244.0 L310.0 244.0 L309.5 288.4 L309.0 360.0 L308.5 360.0 L308.0 360.0 L307.5 240.0 L307.0 234.3 L306.5 240.1 L306.0 256.8 L305.5 289.2 L305.0 306.0 L304.5 315.0 L304.0 321.0 L303.5 330.0 L303.0 352.8 L302.5 368.0 L302.0 368.0 L301.5 368.0 L301.0 328.2 L300.5 348.8 L300.0 368.0 L299.5 368.0 L299.0 368.0 L298.5 288.3 L298.0 295.3 L297.5 300.0 L297.0 340.8 L296.5 368.0 L296.0 368.0 L295.5 368.0 L295.0 341.2 L294.5 359.3 L294.0 363.6 L293.5 370.0 L293.0 379.9 L292.5 386.4 L292.0 393.0 L291.5 393.0 L291.0 393.0 L290.5 390.3 L290.0 387.7 L289.5 385.0 L289.0 380.2 L288.5 373.0 L288.0 368.2 L287.5 366.2 L287.0 368.0 L286.5 371.8 L286.0 374.7 L285.5 379.1 L285.0 382.0 L284.5 382.0 L284.0 382.0 L283.5 378.2 L283.0 380.3 L282.5 390.1 L282.0 390.1 L281.5 390.1 L281.0 378.7 L280.5 367.3 L280.0 371.4 L279.5 382.0 L279.0 382.0 L278.5 382.0 L278.0 377.1 L277.5 377.5 L277.0 385.2 L276.5 385.2 L276.0 385.2 L275.5 377.3 L275.0 367.7 L274.5 372.2 L274.0 379.0 L273.5 383.6 L273.0 383.6 L272.5 382.4 L272.0 379.9 L271.5 383.1 L271.0 390.1 L270.5 390.1 L270.0 390.1 L269.5 383.8 L269.0 374.4 L268.5 373.0 L268.0 375.4 L267.5 378.2 L267.0 380.1 L266.5 382.0 L266.0 382.0 L265.5 378.9 L265.0 377.7 L264.5 388.5 L264.0 388.5 L263.5 388.5 L263.0 384.8 L262.5 381.7 L262.0 388.0 L261.5 390.1 L261.0 390.1 L260.5 384.1 L260.0 378.2 L259.5 378.7 L259.0 382.0 L258.5 383.6 L258.0 385.2 L257.5 388.0 L257.0 392.2 L256.5 395.0 L256.0 395.0 L255.5 395.0 L255.0 388.0 L254.5 381.0 L254.0 377.3 L253.5 379.5 L253.0 385.2 L252.5 385.2 L252.0 385.2 L251.5 376.8 L251.0 371.3 L250.5 373.4 L250.0 382.4 L249.5 388.5 L249.0 388.5 L248.5 383.3 L248.0 381.0 L247.5 389.5 L247.0 391.5 L246.5 394.6 L246.0 396.6 L245.5 396.6 L245.0 396.6 L244.5 391.5 L244.0 391.7 L243.5 395.2 L243.0 395.2 L242.5 395.2 L242.0 390.4 L241.5 393.0 L241.0 394.4 L240.5 394.4 L240.0 387.1 L239.5 385.0 L239.0 391.4 L238.5 391.4 L238.0 389.2 L237.5 386.4 L237.0 394.6 L236.5 394.6 L236.0 394.6 L235.5 389.7 L235.0 393.1 L234.5 394.8 L234.0 394.8 L233.5 390.7 L233.0 390.2 L232.5 394.0 L232.0 394.0 L231.5 394.0 L231.0 388.4 L230.5 392.1 L230.0 393.9 L229.5 393.9 L229.0 391.0 L228.5 390.6 L228.0 393.4 L227.5 393.4 L227.0 392.1 L226.5 389.1 L226.0 392.5 L225.5 392.5 L225.0 392.5 L224.5 387.3 L224.0 390.4 L223.5 392.1 L223.0 392.1 L222.5 387.6 L222.0 387.6 L221.5 392.0 L221.0 392.0 L220.5 392.0 L220.0 385.7 L219.5 388.6 L219.0 390.5 L218.5 390.5 L218.0 385.7 L217.5 385.1 L217.0 389.6 L216.5 389.6 L216.0 386.9 L215.5 381.8 L215.0 390.5 L214.5 390.5 L214.0 390.5 L213.5 376.4 L213.0 388.7 L212.5 394.0 L212.0 394.0 L211.5 386.9 L211.0 386.2 L210.5 392.9 L210.0 392.9 L209.5 392.9 L209.0 383.5 L208.5 389.6 L208.0 392.7 L207.5 392.7 L207.0 388.6 L206.5 388.4 L206.0 392.4 L205.5 392.4 L205.0 390.5 L204.5 386.0 L204.0 390.8 L203.5 390.8 L203.0 390.8 L202.5 385.0 L202.0 389.0 L201.5 391.0 L201.0 391.0 L200.5 387.5 L200.0 387.9 L199.5 391.5 L199.0 391.5 L198.5 391.5 L198.0 387.8 L197.5 391.4 L197.0 393.2 L196.5 393.2 L196.0 390.1 L195.5 392.0 L195.0 396.0 L194.5 396.0 L194.0 394.6 L193.5 392.4 L193.0 397.2 L192.5 397.2 L192.0 397.2 L191.5 390.2 L191.0 392.8 L190.5 394.7 L190.0 394.7 L189.5 390.4 L189.0 390.6 L188.5 394.9 L188.0 394.9 L187.5 394.9 L187.0 388.4 L186.5 391.9 L186.0 394.0 L185.5 394.0 L185.0 390.1 L184.5 389.5 L184.0 393.1 L183.5 393.1 L183.0 391.2 L182.5 387.0 L182.0 392.5 L181.5 392.5 L181.0 392.5 L180.5 387.9 L180.0 390.2 L179.5 391.6 L179.0 391.6 L178.5 387.0 L178.0 386.5 L177.5 390.9 L177.0 390.9 L176.5 390.9 L176.0 383.2 L175.5 388.6 L175.0 391.3 L174.5 391.3 L174.0 385.3 L173.5 383.5 L173.0 388.5 L172.5 388.5 L172.0 385.2 L171.5 379.0 L171.0 389.3 L170.5 389.3 L170.0 389.3 L169.5 380.4 L169.0 386.1 L168.5 389.0 L168.0 389.0 L167.5 384.6 L167.0 385.5 L166.5 390.4 L166.0 390.4 L165.5 390.4 L165.0 388.2 L164.5 390.9 L164.0 393.6 L163.5 393.6 L163.0 389.9 L162.5 380.4 L162.0 387.3 L161.5 389.6 L161.0 389.6 L160.5 386.5 L160.0 381.4 L159.5 389.1 L159.0 391.6 L158.5 391.6 L158.0 384.8 L157.5 377.6 L157.0 382.3 L156.5 385.5 L156.0 385.5 L155.5 383.5 L155.0 377.4 L154.5 384.1 L154.0 391.6 L153.5 391.6 L153.0 387.9 L152.5 376.7 L152.0 375.5 L151.5 377.4 L151.0 383.5 L150.5 389.6 L150.0 389.6 L149.5 389.6 L149.0 372.8 L148.5 385.5 L148.0 385.5 L147.5 385.5 L147.0 376.7 L146.5 367.9 L146.0 362.0 L145.5 359.0 L145.0 375.3 L144.5 391.6 L144.0 391.6 L143.5 391.6 L143.0 380.4 L142.5 379.4 L142.0 385.5 L141.5 385.5 L141.0 385.5 L140.5 377.6 L140.0 374.3 L139.5 379.6 L139.0 381.4 L138.5 381.4 L138.0 376.0 L137.5 382.1 L137.0 385.5 L136.5 385.5 L136.0 382.3 L135.5 379.2 L135.0 381.4 L134.5 389.1 L134.0 391.6 L133.5 391.6 L133.0 389.2 L132.5 382.4 L132.0 386.3 L131.5 387.5 L131.0 387.5 L130.5 379.4 L130.0 368.2 L129.5 377.4 L129.0 383.5 L128.5 383.5 L128.0 381.4 L127.5 375.3 L127.0 385.8 L126.5 389.6 L126.0 389.6 L125.5 387.8 L125.0 382.6 L124.5 377.4 L124.0 367.3 L123.5 373.6 L123.0 381.4 L122.5 381.4 L122.0 381.4 L121.5 367.2 L121.0 352.9 L120.5 345.3 L120.0 381.4 L119.5 381.4 L119.0 381.4 L118.5 376.1 L118.0 374.2 L117.5 381.1 L117.0 383.5 L116.5 383.5 L116.0 380.9 L115.5 377.9 L115.0 380.9 L114.5 385.5 L114.0 385.5 L113.5 385.5 L113.0 381.4 L112.5 378.4 L112.0 386.0 L111.5 393.6 L111.0 393.6 L110.5 393.6 L110.0 382.4 L109.5 385.5 L109.0 385.5 L108.5 385.5 L108.0 372.6 L107.5 377.4 L107.0 389.6 L106.5 389.6 L106.0 386.8 L105.5 378.4 L105.0 376.3 L104.5 383.2 L104.0 385.5 L103.5 385.5 L103.0 379.7 L102.5 373.3 L102.0 377.4 L101.5 381.4 L101.0 381.4 L100.5 378.7 L100.0 370.6 L99.5 365.1 L99.0 365.1 L98.5 362.3 L98.0 353.9 L97.5 356.7 L97.0 367.2 L96.5 367.2 L96.0 367.2 L95.5 355.3 L95.0 361.1 L94.5 365.0 L94.0 365.0 L93.5 365.0 L93.0 332.0 L92.5 348.2 L92.0 374.6 L91.5 383.5 L91.0 383.5 L90.5 382.8 L90.0 381.8 L89.5 374.6 L89.0 364.5 L88.5 358.0 L88.0 355.8 L87.5 366.3 L87.0 373.3 L86.5 373.3 L86.0 369.1 L85.5 356.5 L85.0 357.5 L84.5 370.9 L84.0 375.3 L83.5 375.3 L83.0 365.1 L82.5 353.8 L82.0 367.9 L81.5 377.4 L81.0 377.4 L80.5 374.0 L80.0 364.1 L79.5 373.0 L79.0 389.6 L78.5 389.6 L78.0 389.6 L77.5 374.4 L77.0 359.1 L76.5 351.0 L76.0 351.0 L75.5 351.0 L75.0 339.4 L74.5 327.0 L74.0 330.0 L73.5 330.0 L73.0 330.0 L72.5 293.0 L72.0 331.2 L71.5 344.0 L71.0 344.0 L70.5 355.3 L70.0 370.7 L69.5 386.0 L69.0 386.0 L68.5 376.6 L68.0 381.4 L67.5 381.4 L67.0 381.4 L66.5 374.0 L66.0 367.9 L65.5 381.1 L65.0 385.5 L64.5 385.5 L64.0 378.7 L63.5 368.5 L63.0 358.8 L62.5 350.8 L62.0 367.4 L61.5 384.0 L61.0 389.6 L60.5 389.6 L60.0 378.0 L59.5 385.5 L59.0 391.6 L58.5 391.6 L58.0 386.5 L57.5 371.2 L57.0 357.4 L56.5 346.3 L56.0 365.3 L55.5 378.8 L55.0 385.5 L54.5 385.5 L54.0 376.8 L53.5 368.2 L53.0 378.1 L52.5 381.4 L52.0 381.4 L51.5 378.7 L51.0 377.9 L50.5 387.5 L50.0 387.5 L49.5 387.5 L49.0 373.3 L48.5 378.9 L48.0 385.5 L47.5 385.5 L47.0 385.5 L46.5 381.4 L46.0 395.7 L45.5 395.7 L45.0 395.7 L44.5 379.9 L44.0 389.6 L43.5 389.6 L43.0 389.6 L42.5 378.4 L42.0 391.6 L41.5 391.6 L41.0 391.6 L40.5 381.1 L40.0 382.3 L39.5 393.6 L39.0 393.6 L38.5 393.6 L38.0 369.2 L37.5 347.6 L37.0 382.0 L36.5 382.0 L36.0 383.0 L35.5 383.0 L35.0 383.0 L34.5 385.5 L34.0 385.5 L33.5 385.5 L33.0 384.2 L32.5 383.0 L32.0 384.9 L31.5 385.5 L31.0 385.5 L30.5 385.1 L30.0 384.0 L29.5 378.5 L29.0 384.0 L28.5 384.0 L28.0 368.9 L27.5 362.4 L27.0 374.2 L26.5 392.0 L26.0 395.6 L25.5 398.0 L25.0 398.0 L24.5 398.0 L24.0 393.0 L23.5 393.0 L23.0 393.0 L22.5 392.5 L22.0 392.2 L21.5 391.7 L21.0 391.3 L20.5 390.8 L20.0 390.5 L19.5 390.0 L19.0 388.0Z"/>
<path id="data" fill="none" stroke="#1c54a0" stroke-width="3.2" stroke-linejoin="round" stroke-linecap="round" d="M19.0 388.0 L20.0 380.0 L21.0 378.5 L22.5 382.0 L23.5 393.0 L20.0 390.0 L22.0 386.0 L24.2 385.0 L25.0 398.0 L26.0 392.0 L27.6 338.7 L28.8 384.0 L29.9 350.9 L30.5 384.0 L31.3 385.5 L32.0 383.0 L32.7 359.0 L33.2 383.0 L33.9 385.5 L34.7 337.7 L35.5 383.0 L36.0 367.2 L36.6 382.0 L37.4 313.2 L38.4 361.1 L39.0 393.6 L40.2 367.2 L41.5 391.6 L42.5 365.1 L43.5 389.6 L44.5 364.1 L45.5 395.7 L46.6 367.2 L47.6 385.5 L49.0 359.0 L50.0 387.5 L51.2 365.1 L52.3 381.4 L53.7 355.0 L54.9 385.5 L56.3 331.6 L57.7 361.1 L58.8 391.6 L59.8 355.0 L60.8 389.6 L62.4 339.7 L63.9 365.1 L64.9 385.5 L65.9 359.0 L67.5 381.4 L68.9 367.2 L69.2 386.0 L70.3 340.0 L71.2 344.0 L72.0 293.0 L72.8 280.0 L74.8 281.0 L74.5 300.0 L73.5 330.0 L75.0 322.0 L76.0 351.0 L77.1 349.0 L78.5 389.6 L79.7 350.9 L81.2 377.4 L82.6 339.7 L83.8 375.3 L85.2 339.7 L86.7 373.3 L87.9 348.9 L89.3 361.1 L90.3 381.4 L91.3 383.5 L92.4 330.5 L94.5 328.0 L95.0 269.0 L96.0 328.0 L93.5 332.0 L94.0 365.0 L97.0 336.0 L96.5 367.2 L97.7 342.7 L99.2 365.1 L100.2 365.1 L101.2 381.4 L102.6 365.1 L103.8 385.5 L105.3 367.2 L106.7 389.6 L107.9 346.8 L108.9 385.5 L109.9 371.2 L111.0 393.6 L112.4 373.3 L114.0 385.5 L115.4 373.3 L116.9 383.5 L118.1 367.2 L119.5 381.4 L120.5 309.2 L121.6 352.9 L122.6 381.4 L123.8 353.9 L125.0 377.4 L126.2 389.6 L127.3 367.2 L128.7 383.5 L130.1 359.0 L131.3 387.5 L132.7 377.4 L133.8 391.6 L135.2 371.2 L136.8 385.5 L137.8 365.1 L138.9 381.4 L140.3 367.2 L141.5 385.5 L142.9 369.2 L143.9 391.6 L145.0 359.0 L146.4 359.0 L148.0 385.5 L149.0 356.0 L150.1 389.6 L151.1 377.4 L152.7 369.2 L153.7 391.6 L154.7 369.2 L156.2 385.5 L157.8 371.2 L158.8 391.6 L160.2 371.2 L161.2 389.6 L162.7 371.2 L163.7 393.6 L165.3 381.4 L166.9 373.3 L168.4 367.2 L165.0 382.1 L166.1 390.4 L167.2 375.6 L168.3 389.0 L169.4 371.4 L170.5 389.3 L171.6 368.7 L172.7 388.5 L173.8 373.4 L174.9 391.3 L176.0 375.2 L177.1 390.9 L178.2 377.7 L179.3 391.6 L180.4 383.3 L181.5 392.5 L182.6 381.4 L183.7 393.1 L184.8 382.2 L185.9 394.0 L187.0 381.8 L188.1 394.9 L189.2 381.9 L190.3 394.7 L191.4 383.2 L192.5 397.2 L193.6 387.6 L194.7 396.0 L195.8 384.0 L196.9 393.2 L198.0 382.5 L199.1 391.5 L200.2 380.6 L201.3 391.0 L202.4 379.3 L203.5 390.8 L204.6 381.1 L205.7 392.4 L206.8 380.5 L207.9 392.7 L209.0 374.2 L210.1 392.9 L211.2 372.8 L212.3 394.0 L213.4 362.4 L214.5 390.5 L215.6 373.1 L216.7 389.6 L217.8 376.0 L218.9 390.5 L220.0 379.3 L221.1 392.0 L222.2 378.7 L223.3 392.1 L224.4 382.0 L225.5 392.5 L226.6 385.7 L227.7 393.4 L228.8 385.1 L229.9 393.9 L231.0 382.8 L232.1 394.0 L233.2 382.6 L234.3 394.8 L235.4 384.7 L236.5 394.6 L237.6 378.2 L238.7 391.4 L239.8 372.3 L240.9 394.4 L242.0 385.6 L243.1 395.2 L244.2 384.6 L245.5 396.6 L247.1 388.5 L248.3 362.4 L249.2 388.5 L250.4 367.3 L251.2 365.7 L252.5 385.2 L253.6 373.8 L254.8 378.7 L256.1 395.0 L257.4 385.2 L258.5 382.0 L260.2 372.2 L261.3 390.1 L262.6 375.4 L263.9 388.5 L265.1 363.2 L266.2 382.0 L267.5 375.4 L269.1 368.1 L270.4 390.1 L271.6 373.8 L273.2 383.6 L274.0 372.2 L275.3 361.6 L276.5 385.2 L277.8 367.3 L278.9 382.0 L280.5 350.2 L281.9 390.1 L283.0 370.5 L284.6 382.0 L286.3 368.9 L287.9 361.6 L288.0 361.0 L290.0 385.0 L291.6 393.0 L293.0 370.0 L294.3 355.0 L295.0 300.0 L295.6 294.0 L296.0 368.0 L297.0 300.0 L298.2 286.0 L299.5 290.0 L299.5 368.0 L300.5 320.0 L301.4 315.0 L302.0 368.0 L303.0 330.0 L304.8 300.0 L305.6 246.0 L307.0 225.5 L308.0 240.0 L308.5 360.0 L309.4 240.6 L310.5 244.0 L311.8 241.5 L312.8 370.0 L314.0 330.0 L315.5 384.0 L316.8 314.0 L318.0 340.0 L319.4 371.0 L320.5 330.0 L322.0 320.0 L323.0 360.0 L324.2 376.0 L326.1 346.1 L327.8 382.8 L329.0 321.6 L330.5 320.4 L332.0 377.9 L333.4 336.3 L335.2 299.6 L336.4 353.4 L337.8 382.8 L339.3 355.8 L340.8 387.6 L342.5 346.1 L343.7 348.5 L344.9 328.9 L345.5 340.0 L346.8 323.5 L347.5 384.0 L348.5 348.0 L349.5 362.0 L350.5 350.0 L351.7 388.0 L352.5 360.0 L353.5 352.6 L354.5 385.0 L355.5 362.0 L356.5 365.0 L357.5 330.0 L358.4 312.3 L359.2 362.0 L360.0 324.0 L360.8 366.0 L361.8 329.0 L362.8 370.0 L363.5 340.0 L364.2 373.0 L365.0 345.0 L366.2 384.0 L367.3 334.7 L368.3 372.0 L369.3 348.0 L370.3 358.0 L371.3 335.0 L371.8 300.0 L372.4 260.7 L374.1 333.8 L378.8 269.8 L376.5 324.0 L377.5 353.4 L384.0 263.7 L379.5 358.3 L380.7 328.9 L381.9 353.4 L383.9 341.2 L385.6 380.3 L386.8 341.2 L388.8 360.7 L390.5 326.5 L392.2 304.5 L393.7 353.4 L394.9 328.9 L396.1 317.9 L397.1 360.7 L398.5 343.6 L400.3 365.6 L401.5 341.2 L402.7 373.0 L404.4 315.5 L405.6 373.0 L406.9 377.9 L408.3 321.6 L409.3 375.4 L410.8 341.2 L411.8 377.9 L413.2 313.0 L414.4 343.6 L415.7 358.3 L416.7 373.0 L418.1 350.9 L419.3 382.8 L420.6 353.4 L422.3 363.2 L424.0 377.9 L425.5 348.5 L427.2 319.1 L428.4 328.9 L429.6 360.7 L431.3 328.9 L433.3 365.6 L433.7 333.8 L434.9 373.0 L436.1 353.4 L437.3 363.2 L438.6 353.4 L439.8 373.0 L441.0 355.8 L442.7 377.9 L443.9 331.4 L445.2 373.0 L446.6 358.3 L447.9 336.3 L449.1 380.3 L450.3 350.9 L451.5 385.2 L452.8 348.5 L454.5 382.8 L455.7 338.7 L457.4 333.8 L458.9 365.6 L460.6 320.4 L461.8 353.4 L463.0 324.0 L464.3 368.1 L465.5 314.3 L466.7 360.7 L467.9 338.7 L469.1 370.5 L470.4 353.4 L471.6 382.8 L472.8 353.4 L474.0 385.2 L475.3 352.2 L476.5 350.9 L477.7 387.6 L479.4 353.4 L480.6 311.8 L482.1 348.5 L483.3 287.3 L484.6 350.9 L486.3 365.6 L487.7 358.3 L488.7 387.6 L490.2 360.7 L491.7 341.2 L492.9 377.9 L494.1 346.1 L495.6 382.8 L496.8 355.8 L498.0 373.0 L499.7 392.5 L500.9 328.9 L502.2 377.9 L503.4 343.6 L504.6 355.8 L506.3 331.4 L507.8 385.2 L507.9 330.2 L509.4 373.0 L510.4 343.6 L511.9 377.9 L512.8 348.5 L514.3 375.4 L515.5 382.8 L516.7 363.2 L518.0 385.2 L519.2 368.1 L520.2 392.5 L521.4 355.8 L522.6 382.8 L523.8 353.4 L525.1 377.9 L526.3 348.5 L527.5 373.0 L529.0 360.7 L530.4 337.5 L531.9 370.5 L533.1 346.1 L534.4 373.0 L535.6 343.6 L537.3 341.2 L538.8 377.9 L540.5 353.4 L541.7 373.0 L542.9 348.5 L544.1 382.8 L545.4 331.4 L546.6 330.2 L547.8 382.8 L549.0 338.7 L550.3 373.0 L551.5 360.7 L552.7 328.9 L553.9 360.7 L555.2 297.1 L556.4 353.4 L557.6 373.0 L558.8 319.1 L560.3 304.5 L561.8 348.5 L563.2 316.7 L564.7 353.4 L566.2 319.1 L567.6 350.9 L569.1 324.0 L570.6 353.4 L572.3 333.8 L573.5 379.0 L574.5 345.0 L575.2 352.0 L575.8 325.0 L576.5 350.0 L577.3 318.0 L578.0 345.0 L578.7 312.0 L579.4 340.0 L580.1 309.0 L580.8 330.0 L581.5 315.0 L582.0 368.0 L582.8 345.0 L583.5 366.0 L584.3 342.0 L585.0 365.0 L585.8 340.0 L586.5 368.0 L587.5 345.0 L588.2 366.0 L589.8 284.2 L591.2 345.4 L592.6 316.9 L593.8 356.8 L594.9 319.8 L596.3 359.6 L597.8 312.6 L599.2 339.7 L600.6 328.3 L602.0 373.8 L603.5 331.1 L604.6 307.0 L606.3 345.4 L607.7 368.1 L609.1 342.5 L610.6 379.5 L611.4 325.5 L612.8 345.4 L614.3 373.8 L615.7 342.5 L617.1 379.5 L618.0 384.0 L619.3 330.0 L620.0 300.0 L620.8 370.0 L621.5 286.0 L622.3 350.0 L623.0 290.0 L623.8 372.0 L624.5 300.0 L625.5 274.0 L627.0 255.0 L627.4 230.0 L628.5 88.4 L629.5 226.5 L630.3 292.7"/>
<path d="M688.5 480.5 L698.5 470.5 L698.5 480.5 Z" fill="#e0d6cd"/>
</svg>
<div class="t" id="src">Источник: Bloomberg</div>
<div class="t" id="cr">© ФУТ</div>
</body></html>
